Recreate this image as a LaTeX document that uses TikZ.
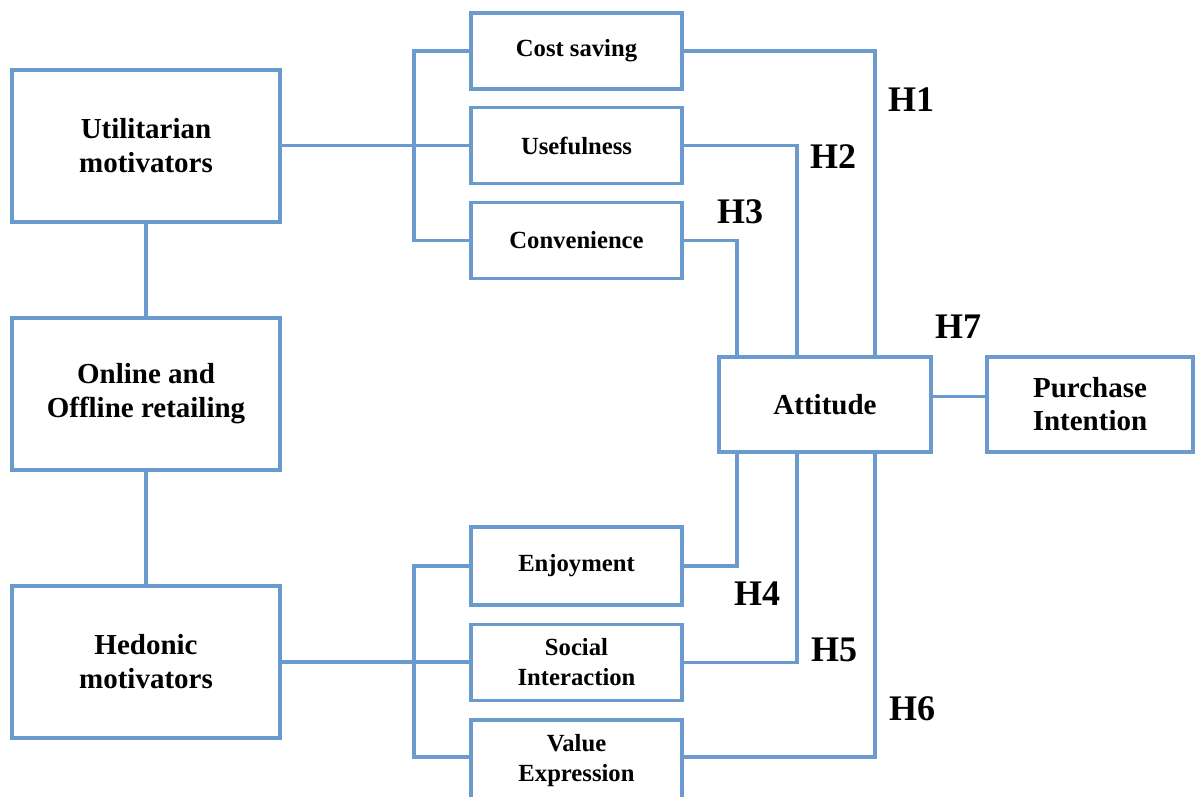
\documentclass[tikz,border=0pt]{standalone}
\usepackage{fontspec}
\setmainfont{Liberation Serif}
\definecolor{lineblue}{RGB}{106,154,206}
\begin{document}
\begin{tikzpicture}[x=0.75pt,y=-0.75pt,
  conn/.style={draw=lineblue, line width=2.8pt},
  bigbox/.style={draw=lineblue, line width=2.8pt, fill=white, inner sep=0pt, align=center,
     minimum width=201pt, minimum height=114pt, font=\fontsize{21.75}{25.5}\selectfont\bfseries},
  smallbox/.style={draw=lineblue, line width=2.8pt, fill=white, inner sep=0pt, align=center,
     minimum width=158.25pt, minimum height=57pt, font=\fontsize{18.5}{22.5}\selectfont\bfseries},
  midbox/.style={draw=lineblue, line width=2.8pt, fill=white, inner sep=0pt, align=center,
     minimum height=71.25pt, font=\fontsize{21.75}{24.75}\selectfont\bfseries},
  hlab/.style={inner sep=0pt, font=\fontsize{27}{30}\selectfont\bfseries}]
\useasboundingbox (0,0) rectangle (1195,796);
% left boxes
\node[bigbox] (util) at (146,146) {Utilitarian\\motivators};
\node[bigbox] (onl) at (146,394) {Online and\\Offline retailing};
\node[bigbox] (hed) at (146,662) {Hedonic\\motivators};
% small boxes
\node[smallbox] (cost) at (576.5,51) {Cost saving};
\node[smallbox] (use) at (576.5,145.5) {Usefulness};
\node[smallbox] (conv) at (576.5,240.5) {Convenience};
\node[smallbox, minimum height=58.5pt] (enj) at (576.5,566) {Enjoyment};
\node[smallbox] (soc) at (576.5,662.5) {Social\\Interaction};
\node[smallbox, minimum height=61.5pt] (val) at (576.5,761) {Value\\Expression};
% right boxes
\node[midbox, minimum width=159pt] (att) at (825,404.5) {Attitude};
\node[midbox, minimum width=154.5pt] (pi) at (1090,404.5) {Purchase\\Intention};
% coordinates for buses
\coordinate (ubus) at (414,0);
\coordinate (vw) at ([yshift=3pt]val.west);
\coordinate (ve) at ([yshift=3pt]val.east);
% left links
\draw[conn] (util.south) -- (onl.north);
\draw[conn] (onl.south) -- (hed.north);
\draw[conn] (util.east |- use.west) -- (use.west);
\draw[conn] (cost.west) -| (ubus |- conv.west) -- (conv.west);
\draw[conn] (hed.east) -- (hed.east -| soc.west);
\draw[conn] (enj.west) -| (ubus |- vw) -- (vw);
% right links
\draw[conn] (cost.east) -| ([xshift=-43.5pt]att.north east);
\draw[conn] (use.east) -| ([xshift=-21pt]att.north);
\draw[conn] (conv.east) -| ([xshift=15pt]att.north west);
\draw[conn] (enj.east) -| ([xshift=15pt]att.south west);
\draw[conn] (soc.east) -| ([xshift=-21pt]att.south);
\draw[conn] (ve) -| ([xshift=-43.5pt]att.south east);
\draw[conn] ([yshift=6pt]att.east) -- ([yshift=6pt]pi.west);
% hypothesis labels
\node[hlab] (h1) at (911,100) {H1};
\node[hlab] (h2) at (833,157) {H2};
\node[hlab] (h3) at (740,212) {H3};
\node[hlab] (h4) at (757,594) {H4};
\node[hlab] (h5) at (834,650) {H5};
\node[hlab] (h6) at (912,709) {H6};
\node[hlab] (h7) at (958,327) {H7};
\end{tikzpicture}
\end{document}
